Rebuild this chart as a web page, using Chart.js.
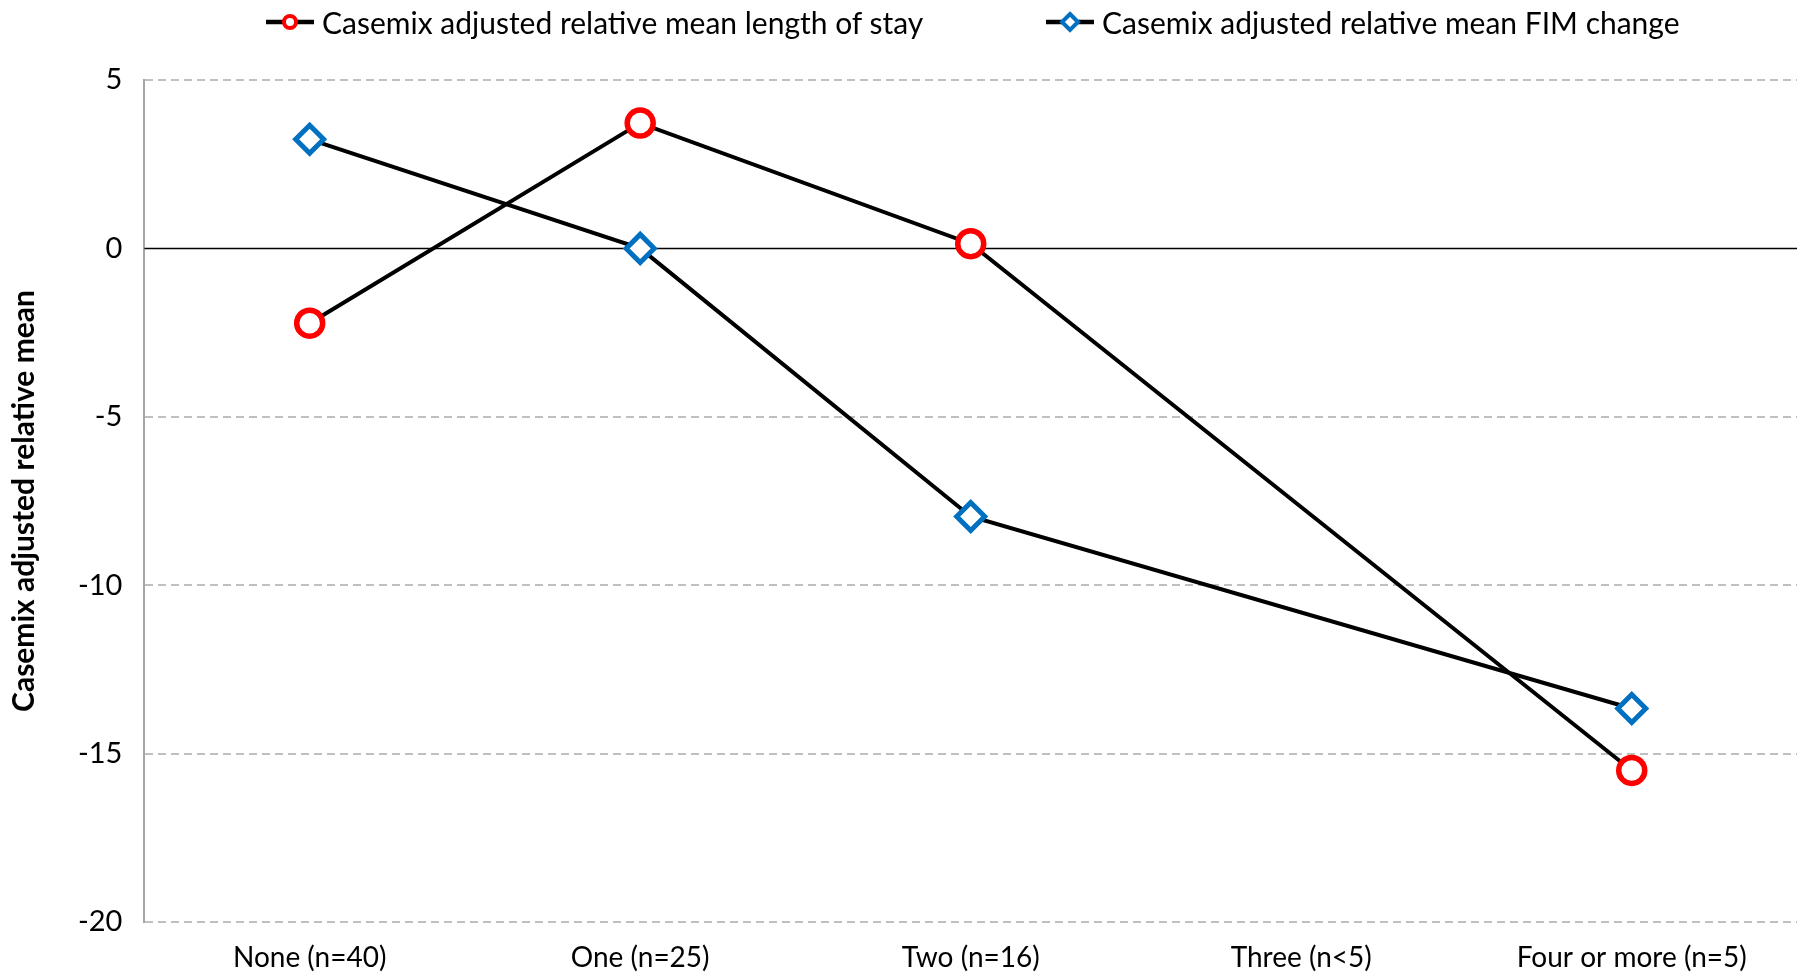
<!DOCTYPE html>
<html>
<head>
<meta charset="utf-8">
<script src="https://cdn.jsdelivr.net/npm/chart.js@4/dist/chart.umd.min.js"></script>
<style>
  html, body { margin: 0; padding: 0; background: #fff; overflow: hidden; }
  #wrap { position: relative; width: 1802px; height: 972px; }
  #grafico { display: block; }
  #legenda { position: absolute; top: 0; left: 0; width: 1802px; height: 44px; font-family: Lato, "Open Sans", sans-serif; font-size: 30px; color: #000; }
  .item { position: absolute; top: 4px; display: flex; align-items: center; white-space: nowrap; }
  .item canvas { margin-right: 8px; }
</style>
</head>
<body>
<div id="wrap">
  <canvas id="grafico"></canvas>
  <div id="legenda"></div>
</div>
<script>
const categorias = ["None (n=40)", "One (n=25)", "Two (n=16)", "Three (n<5)", "Four or more (n=5)"];
const mediaEstadia = [-2.22, 3.72, 0.14, null, -15.5];
const mediaFIM = [3.24, 0, -7.96, null, -13.66];
const ticksY = [5, 0, -5, -10, -15, -20];

const fonte = "Lato, 'Open Sans', sans-serif";

function iconeLegenda(estilo, cor) {
  const c = document.createElement("canvas");
  c.width = 48;
  c.height = 30;
  const g = c.getContext("2d");
  g.strokeStyle = "#000";
  g.lineWidth = 4.5;
  g.beginPath();
  g.moveTo(0, 15);
  g.lineTo(48, 15);
  g.stroke();
  g.lineWidth = 4;
  g.strokeStyle = cor;
  g.fillStyle = "#fff";
  g.beginPath();
  if (estilo === "circle") {
    g.arc(24, 15, 6, 0, Math.PI * 2);
  } else {
    g.moveTo(24, 7);
    g.lineTo(32, 15);
    g.lineTo(24, 23);
    g.lineTo(16, 15);
    g.closePath();
  }
  g.fill();
  g.stroke();
  return c;
}

const linhaZero = {
  id: "linhaZero",
  beforeDatasetsDraw(chart) {
    const { ctx, chartArea, scales } = chart;
    const y = scales.y.getPixelForValue(0);
    ctx.save();
    ctx.strokeStyle = "#000";
    ctx.lineWidth = 1.5;
    ctx.beginPath();
    ctx.moveTo(chartArea.left, y);
    ctx.lineTo(chartArea.right, y);
    ctx.stroke();
    ctx.restore();
  },
};

const grafico = new Chart(document.getElementById("grafico"), {
  type: "line",
  data: {
    labels: categorias,
    datasets: [
      {
        label: "Casemix adjusted relative mean length of stay",
        data: mediaEstadia,
        borderColor: "#000",
        borderWidth: 4,
        spanGaps: true,
        tension: 0,
        pointStyle: "circle",
        pointRadius: 13,
        pointHoverRadius: 13,
        pointBorderWidth: 5.5,
        pointBorderColor: "#ff0000",
        pointBackgroundColor: "#fff",
      },
      {
        label: "Casemix adjusted relative mean FIM change",
        data: mediaFIM,
        borderColor: "#000",
        borderWidth: 4,
        spanGaps: true,
        tension: 0,
        pointStyle: "rectRot",
        pointRadius: 14,
        pointHoverRadius: 14,
        pointBorderWidth: 5,
        pointBorderColor: "#0070c0",
        pointBackgroundColor: "#fff",
      },
    ],
  },
  options: {
    responsive: true,
    maintainAspectRatio: false,
    animation: false,
    layout: { autoPadding: false, padding: { left: 6, right: 5, top: 80, bottom: 0 } },
    plugins: {
      tooltip: { enabled: false },
      legend: { display: false },
    },
    scales: {
      x: {
        offset: true,
        grid: { display: false, drawTicks: false },
        border: { display: false },
        afterFit(scale) {
          scale.height = 50;
          scale.paddingLeft = 0;
          scale.paddingRight = 0;
        },
        ticks: {
          color: "#000",
          padding: 19,
          font: { family: fonte, size: 28 },
          maxRotation: 0,
        },
      },
      y: {
        min: -20,
        max: 5,
        afterBuildTicks(axis) {
          axis.ticks = ticksY.map((v) => ({ value: v }));
        },
        grid: {
          color: (ctx) => (ctx.tick && ctx.tick.value === 0 ? "rgba(0,0,0,0)" : "#c0c0c0"),
          lineWidth: 2,
          drawTicks: false,
        },
        border: { display: true, color: "#a6a6a6", width: 2, dash: [8, 5] },
        ticks: {
          color: "#000",
          padding: 22,
          font: { family: fonte, size: 29 },
        },
        title: {
          display: true,
          text: "Casemix adjusted relative mean",
          color: "#000",
          font: { family: fonte, size: 30, weight: "bold" },
          padding: { top: 0, bottom: 14 },
        },
      },
    },
  },
  plugins: [linhaZero],
});

// legenda em HTML, com linha + marcador como no original
const posLegenda = [266, 1046];
const legenda = document.getElementById("legenda");
grafico.data.datasets.forEach((ds, i) => {
  const item = document.createElement("div");
  item.className = "item";
  item.style.left = posLegenda[i] + "px";
  item.appendChild(iconeLegenda(ds.pointStyle, ds.pointBorderColor));
  const txt = document.createElement("span");
  txt.textContent = ds.label;
  item.appendChild(txt);
  legenda.appendChild(item);
});
</script>
</body>
</html>
